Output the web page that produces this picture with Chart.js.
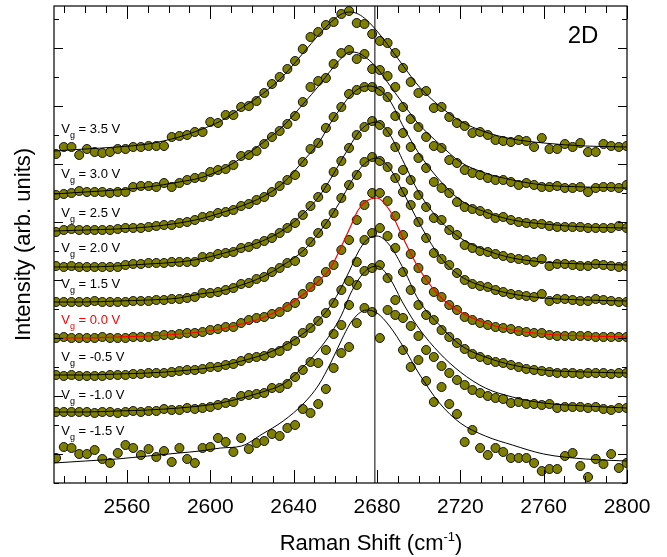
<!DOCTYPE html>
<html>
<head>
<meta charset="utf-8">
<script src="https://cdn.jsdelivr.net/npm/chart.js@4.4.1/dist/chart.umd.min.js"></script>
<style>
  html, body { margin: 0; padding: 0; background: #fff; }
  canvas { display: block; }
</style>
</head>
<body>
<canvas id="c" width="667" height="557" style="width:667px;height:557px"></canvas>
<script>
// ---------- data ----------
const ramanShift = [2526.0, 2529.7, 2533.4, 2537.1, 2540.8, 2544.5, 2548.2, 2551.9, 2555.6, 2559.3,
  2563.0, 2566.7, 2570.4, 2574.1, 2577.8, 2581.5, 2585.2, 2588.9, 2592.6, 2596.3,
  2600.0, 2603.7, 2607.4, 2611.1, 2614.8, 2618.5, 2622.2, 2625.9, 2629.6, 2633.3,
  2637.0, 2640.7, 2644.4, 2648.1, 2651.8, 2655.5, 2659.2, 2662.9, 2666.6, 2670.3,
  2674.0, 2677.7, 2681.4, 2685.1, 2688.8, 2692.5, 2696.2, 2699.9, 2703.6, 2707.3,
  2711.0, 2714.7, 2718.4, 2722.1, 2725.8, 2729.5, 2733.2, 2736.9, 2740.6, 2744.3,
  2748.0, 2751.7, 2755.4, 2759.1, 2762.8, 2766.5, 2770.2, 2773.9, 2777.6, 2781.3,
  2785.0, 2788.7, 2792.4, 2796.1, 2799.8];

const gateVoltages = ['3.5', '3.0', '2.5', '2.0', '1.5', '0.0', '-0.5', '-1.0', '-1.5'];

// measured spectra (offset intensity, arb. units)
const vg35 = [329,336,336,328,334,331,330,331,334,334, 336,336,337,337,337,346,347,348,351,351,
  361,360,368,368,376,377,382,390,399,406, 414,422,434,446,451,458,461,469,472,460,
  459,449,442,440,430,415,401,390,392,375, 376,366,360,357,350,351,348,343,342,341,
  343,342,336,345,334,334,339,336,340,331, 331,339,337,336,337];
const vg30 = [288,289,290,292,291,291,291,290,291,291, 296,297,297,296,300,296,300,303,305,306,
  311,313,314,318,327,328,332,339,346,352, 359,367,381,396,402,405,419,430,433,424,
  429,414,413,407,396,376,364,356,346,337, 335,323,320,313,310,308,305,303,303,301,
  298,300,298,296,296,297,295,295,296,291, 295,296,296,295,298];
const vg25 = [251,253,254,253,253,253,253,253,254,255, 255,255,256,257,258,258,260,261,263,266,
  267,270,271,273,277,279,283,286,291,297, 303,308,321,334,340,355,366,376,389,393,
  396,396,392,386,367,350,336,325,315,301, 295,290,281,276,274,272,269,265,266,263,
  261,260,259,259,257,256,256,256,256,255, 255,255,255,257,255];
const vg20 = [217,216,217,216,216,216,216,216,216,218, 219,219,220,220,220,221,221,221,221,226,
  226,229,230,231,235,236,239,242,245,250, 255,260,268,277,286,295,311,322,335,348,
  356,362,358,351,336,313,303,288,276,265, 263,253,248,238,235,232,231,229,227,225,
  224,223,221,224,217,219,219,218,217,217, 219,218,217,216,217];
const vg15 = [181,181,181,181,181,182,181,181,181,181, 182,182,182,183,183,184,184,185,186,190,
  190,191,193,195,199,200,204,206,211,215, 220,222,231,241,250,259,270,285,298,308,
  321,326,322,316,305,291,278,261,245,230, 224,218,210,203,199,197,196,193,191,189,
  188,187,186,189,182,184,184,183,182,182, 184,183,182,181,181];
const vg00 = [145,146,145,145,145,145,146,145,145,145, 146,146,146,147,148,148,149,150,150,151,
  153,154,156,156,160,163,165,166,169,171, 176,180,189,196,202,211,218,233,243,263,
  278,290,290,282,267,248,229,215,203,191, 186,178,173,166,163,160,158,156,155,154,
  152,151,150,150,148,147,147,147,147,147, 146,146,146,146,146];
const vgm05 = [108,107,108,107,107,107,107,108,108,108, 109,109,110,110,110,111,112,113,113,114,
  116,116,118,119,122,125,126,127,130,132, 137,142,150,155,162,170,180,193,202,221,
  243,250,255,247,235,211,193,178,168,163, 153,146,140,134,129,126,123,121,120,118,
  116,114,113,112,111,110,110,110,109,110, 110,110,109,110,110];
const vgm10 = [71,71,71,71,71,70,71,71,70,71, 72,71,72,72,74,73,73,75,74,75,
  76,78,80,81,87,88,89,90,95,95, 99,106,113,121,120,133,149,158,178,198,
  212,215,218,205,183,165,157,147,133,126, 117,110,103,98,93,90,87,85,84,80,
  81,79,79,78,79,75,76,76,76,75, 76,74,73,75,75];
const vgm15 = [25,36,35,29,29,33,24,20,30,38, 35,28,34,26,32,21,35,24,20,35,
  36,45,41,31,45,34,40,42,49,47, 55,58,74,70,79,94,115,130,136,160,
  175,171,145,173,168,133,116,123,102,81, 96,79,69,41,53,35,28,35,31,25,
  25,25,20,12,14,14,27,30,17,6, 24,19,29,15,20];

// fitted curves, read at these Raman shifts
const fitShift = [2525,2540,2555,2570,2585,2595,2605,2615,2625,2635,2645,2652,2658,2663,
  2667,2671,2675,2680,2686,2693,2700,2710,2720,2732,2745,2760,2780,2800];
const fit35 = [332,334,336,339,346,353,362,375,389,407,431,448,461,469,471,469,463,452,436,416,397,377,362,351,344,340,337,336];
const fit30 = [289,291,293,296,301,305,313,325,340,357,380,397,413,425,431,430,425,415,398,378,359,339,321,310,303,298,296,295];
const fit25 = [252,253,254,256,260,264,270,277,286,300,323,340,361,376,387,394,397,395,383,355,330,303,283,271,263,259,256,255];
const fit20 = [216,216,217,219,221,224,229,235,242,253,270,286,305,323,337,350,358,361,349,320,291,263,245,233,225,221,219,218];
const fit15 = [181,181,182,183,185,189,192,198,206,218,233,250,267,284,299,312,321,325,315,289,261,227,207,196,189,185,183,182];
const fit00 = [145,145,146,147,149,151,154,159,165,175,189,202,216,237,255,273,282,285,273,243,215,187,171,160,153,149,147,146];
const fitm05 = [108,108,109,110,112,114,117,122,128,137,150,163,178,196,213,231,243,247,238,213,183,158,138,126,118,113,111,110];
const fitm10 = [71,71,72,73,75,77,80,85,91,99,117,133,150,168,188,203,213,217,205,178,155,130,111,95,86,80,77,75];
const fitm15 = [20,22,24,27,30,32,35,37,49,62,80,98,121,143,159,169,173,170,157,135,110,80,60,47,38,29,24,22];

const peakMarker = 2679;

// axis ticks
const xTickLabels = [2560, 2600, 2640, 2680, 2720, 2760, 2800];
const xMinorTicks = [2530,2540,2550,2560,2570,2580,2590,2600,2610,2620,2630,2640,2650,2660,2670,
  2680,2690,2700,2710,2720,2730,2740,2750,2760,2770,2780,2790,2800];
const yTickValues = [0,29,58,87,116,145,174,203,232,261,290,319,348,377,406,435,464];

// ---------- layout / style (not data) ----------
const labelAnchorY = [355,310,271,236,200,164,127,89,53];
const labelAnchorX = 2528.5;
const FONT = "'Liberation Sans', Arial, Helvetica, sans-serif";
const POINT_FILL = '#808000';

const spectra = [vg35, vg30, vg25, vg20, vg15, vg00, vgm05, vgm10, vgm15];
const fits = [fit35, fit30, fit25, fit20, fit15, fit00, fitm05, fitm10, fitm15];

const datasets = [];
datasets.push({
  label: 'peak', data: [{x: peakMarker, y: 0}, {x: peakMarker, y: 477}],
  showLine: true, borderColor: '#000', borderWidth: 1, pointRadius: 0, order: -2
});
fits.forEach((f, i) => {
  datasets.push({
    label: 'fit ' + gateVoltages[i],
    data: fitShift.map((x, j) => ({x, y: f[j]})),
    showLine: true, pointRadius: 0,
    borderColor: gateVoltages[i] === '0.0' ? '#ff0000' : '#000',
    borderWidth: gateVoltages[i] === '0.0' ? 1.2 : 1,
    cubicInterpolationMode: 'monotone',
    order: gateVoltages[i] === '0.0' ? -1 : 0
  });
});
spectra.forEach((s, i) => {
  datasets.push({
    label: 'Vg ' + gateVoltages[i],
    data: ramanShift.map((x, j) => ({x, y: s[j]})),
    showLine: false, pointRadius: 4.5, pointBorderWidth: 1,
    pointBackgroundColor: POINT_FILL, pointBorderColor: '#111',
    order: 1
  });
});

const framePlugin = {
  id: 'frame',
  afterDatasetsDraw(chart) {
    const {ctx, chartArea: {left, right, top, bottom}, scales: {x, y}} = chart;
    ctx.save();
    ctx.strokeStyle = '#000';
    ctx.lineWidth = 1;
    ctx.beginPath();
    x.ticks.forEach(t => {
      const px = Math.round(x.getPixelForValue(t.value)) + 0.5;
      const len = xTickLabels.includes(t.value) ? 13 : 7;
      ctx.moveTo(px, bottom); ctx.lineTo(px, bottom - len);
      ctx.moveTo(px, top); ctx.lineTo(px, top + len);
    });
    y.ticks.forEach((t, k) => {
      const py = Math.round(y.getPixelForValue(t.value)) + 0.5;
      const len = (k % 2 === 1) ? 9 : 5;
      ctx.moveTo(left, py); ctx.lineTo(left + len, py);
      ctx.moveTo(right, py); ctx.lineTo(right - len, py);
    });
    ctx.stroke();
    ctx.lineWidth = 1.2;
    ctx.strokeRect(left, top, right - left, bottom - top);
    ctx.restore();
  }
};

const labelPlugin = {
  id: 'vglabels',
  afterDraw(chart) {
    const {ctx, scales: {x, y}, chartArea} = chart;
    ctx.save();
    ctx.textBaseline = 'alphabetic';
    ctx.textAlign = 'left';
    gateVoltages.forEach((v, i) => {
      const px = x.getPixelForValue(labelAnchorX);
      const py = y.getPixelForValue(labelAnchorY[i]) + 5;
      ctx.fillStyle = v === '0.0' ? '#ff0000' : '#000';
      ctx.font = '13px ' + FONT;
      ctx.fillText('V', px, py);
      let w = ctx.measureText('V').width;
      ctx.font = '9px ' + FONT;
      ctx.fillText('g', px + w, py + 5);
      w += ctx.measureText('g').width;
      ctx.font = '13px ' + FONT;
      ctx.fillText(' = ' + v + ' V', px + w, py);
    });
    // panel tag
    ctx.fillStyle = '#000';
    ctx.font = '24px ' + FONT;
    ctx.textAlign = 'center';
    ctx.textBaseline = 'middle';
    ctx.fillText('2D', chartArea.right - 44, chartArea.top + 30);
    // x-axis title with superscript
    const main = 'Raman Shift (cm', sup = '-1', close = ')';
    ctx.textAlign = 'left';
    ctx.textBaseline = 'alphabetic';
    ctx.font = '22px ' + FONT;
    const w1 = ctx.measureText(main).width;
    const w3 = ctx.measureText(close).width;
    ctx.font = '13px ' + FONT;
    const w2 = ctx.measureText(sup).width;
    const cx = 371, base = 550;
    let sx = cx - (w1 + w2 + w3) / 2;
    ctx.font = '22px ' + FONT;
    ctx.fillText(main, sx, base);
    ctx.font = '13px ' + FONT;
    ctx.fillText(sup, sx + w1, base - 9);
    ctx.font = '22px ' + FONT;
    ctx.fillText(close, sx + w1 + w2, base);
    ctx.restore();
  }
};

new Chart(document.getElementById('c'), {
  type: 'scatter',
  data: {datasets},
  options: {
    responsive: false,
    animation: false,
    layout: {padding: {left: 0, right: 40, top: 6, bottom: 0}},
    plugins: {legend: {display: false}, tooltip: {enabled: false}},
    scales: {
      x: {
        type: 'linear', min: 2525, max: 2800,
        afterBuildTicks: s => { s.ticks = xMinorTicks.map(v => ({value: v})); },
        afterFit: s => { s.height = 74; },
        grid: {display: false, drawTicks: false},
        border: {display: false},
        ticks: {
          autoSkip: false, maxRotation: 0, minRotation: 0, padding: 12, color: '#000',
          font: {size: 21, family: FONT},
          callback: v => xTickLabels.includes(v) ? String(v) : ''
        },
        title: {display: false}
      },
      y: {
        type: 'linear', min: 0, max: 477,
        afterBuildTicks: s => { s.ticks = yTickValues.map(v => ({value: v})); },
        afterFit: s => { s.width = 54; },
        grid: {display: false, drawTicks: false},
        border: {display: false},
        ticks: {display: false},
        title: {display: true, text: 'Intensity (arb. units)', color: '#000',
          font: {size: 22, family: FONT}, padding: {top: 11, bottom: 0}}
      }
    }
  },
  plugins: [framePlugin, labelPlugin]
});
</script>
</body>
</html>
